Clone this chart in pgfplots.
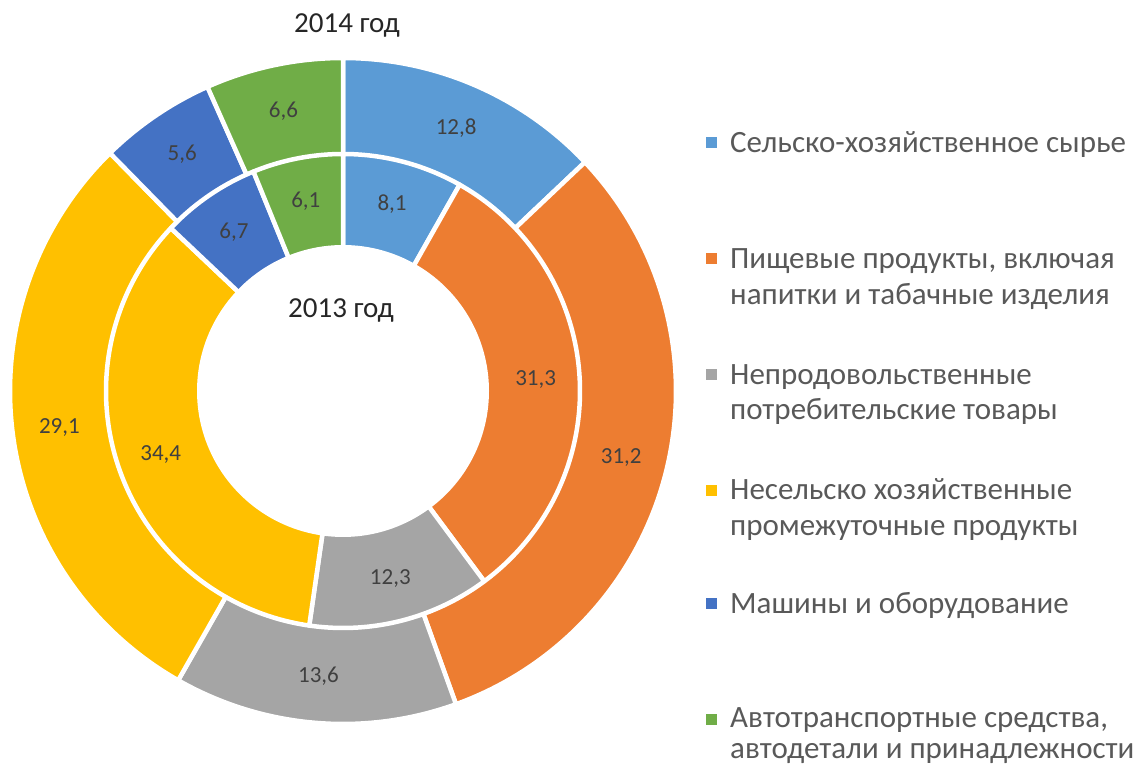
\documentclass[border=0pt]{standalone}
\usepackage{pgfplots}
\pgfplotsset{compat=1.18}
\usepackage{pgfplotstable}
\usepackage{fontspec}
\setmainfont{Carlito}

\definecolor{c0}{HTML}{5B9BD5}
\definecolor{c1}{HTML}{ED7D31}
\definecolor{c2}{HTML}{A5A5A5}
\definecolor{c3}{HTML}{FFC000}
\definecolor{c4}{HTML}{4472C4}
\definecolor{c5}{HTML}{70AD47}
\definecolor{lbl}{HTML}{404040}
\definecolor{leg}{HTML}{595959}
\definecolor{ttl}{HTML}{262626}

\pgfplotstableread{
cat v2014 v2013
0 12.8 8.1
1 31.2 31.3
2 13.6 12.3
3 29.1 34.4
4 5.6 6.7
5 6.6 6.1
}\donutdata

\newcommand\ringangles[2]{%
  \def\tot{0}%
  \pgfplotsforeachungrouped \i in {0,...,5}{%
    \pgfplotstablegetelem{\i}{#1}\of\donutdata
    \pgfmathsetmacro\tot{\tot+\pgfplotsretval}%
  }%
  \def\cum{0}%
  \pgfplotsforeachungrouped \i in {0,...,5}{%
    \pgfplotstablegetelem{\i}{#1}\of\donutdata
    \let\val\pgfplotsretval
    \pgfmathsetmacro\angA{90-360*(\cum/\tot)}%
    \pgfmathsetmacro\cum{\cum+\val}%
    \pgfmathsetmacro\angB{90-360*(\cum/\tot)}%
    \expandafter\xdef\csname #2a\i\endcsname{\angA}%
    \expandafter\xdef\csname #2b\i\endcsname{\angB}%
    \expandafter\xdef\csname #2v\i\endcsname{\val}%
  }%
}
\ringangles{v2014}{O}
\ringangles{v2013}{I}

\pgfkeys{/pgf/number format/.cd, use comma, fixed, fixed zerofill, precision=1, assume math mode=true}

\begin{document}
\begin{tikzpicture}
\begin{axis}[
  x=1pt, y=1pt,
  xmin=-343, xmax=798, ymin=-376, ymax=391,
  hide axis, clip=false,
]
\addplot[draw=none] coordinates {(-343,-376) (798,391)};
% outer ring (2014)
\pgfplotsinvokeforeach{0,...,5}{%
  \addplot[fill=c#1, draw=white, line width=4.5pt, line join=round, variable=\t,
    samples at={-1,0,1,...,120,121}]
   ({ifthenelse(\t<-0.5 || \t>120.5, 0, 333*cos(\csname Oa#1\endcsname+(\csname Ob#1\endcsname-\csname Oa#1\endcsname)*\t/120))},
    {ifthenelse(\t<-0.5 || \t>120.5, 0, 333*sin(\csname Oa#1\endcsname+(\csname Ob#1\endcsname-\csname Oa#1\endcsname)*\t/120))});
}
% inner ring (2013)
\pgfplotsinvokeforeach{0,...,5}{%
  \addplot[fill=c#1, draw=white, line width=4.5pt, line join=round, variable=\t,
    samples at={-1,0,1,...,120,121}]
   ({ifthenelse(\t<-0.5 || \t>120.5, 0, 237*cos(\csname Ia#1\endcsname+(\csname Ib#1\endcsname-\csname Ia#1\endcsname)*\t/120))},
    {ifthenelse(\t<-0.5 || \t>120.5, 0, 237*sin(\csname Ia#1\endcsname+(\csname Ib#1\endcsname-\csname Ia#1\endcsname)*\t/120))});
}
% hole
\addplot[fill=white, draw=none, domain=0:360, samples=181] ({146*cos(x)},{146*sin(x)});
% data labels
\pgfplotsinvokeforeach{0,...,5}{%
  \node[text=lbl, font=\fontsize{23}{27}\selectfont, inner sep=0pt] at
   (axis cs:{286*cos((\csname Oa#1\endcsname+\csname Ob#1\endcsname)/2)},{286*sin((\csname Oa#1\endcsname+\csname Ob#1\endcsname)/2)})
   {\pgfmathprintnumber{\csname Ov#1\endcsname}};
  \node[text=lbl, font=\fontsize{23}{27}\selectfont, inner sep=0pt] at
   (axis cs:{193*cos((\csname Ia#1\endcsname+\csname Ib#1\endcsname)/2)},{193*sin((\csname Ia#1\endcsname+\csname Ib#1\endcsname)/2)})
   {\pgfmathprintnumber{\csname Iv#1\endcsname}};
}
% titles
\node[anchor=base, text=ttl, font=\fontsize{29}{34}\selectfont, inner sep=0pt] at (axis cs:4,358) {2014 год};
\node[anchor=base, text=ttl, font=\fontsize{29}{34}\selectfont, inner sep=0pt] at (axis cs:-2,73) {2013 год};
% legend
\addplot[only marks, mark=square*, mark size=5pt, color=c0] coordinates {(368,249)};
\addplot[only marks, mark=square*, mark size=5pt, color=c1] coordinates {(368,133)};
\addplot[only marks, mark=square*, mark size=5pt, color=c2] coordinates {(368,17)};
\addplot[only marks, mark=square*, mark size=5pt, color=c3] coordinates {(368,-99)};
\addplot[only marks, mark=square*, mark size=5pt, color=c4] coordinates {(368,-212)};
\addplot[only marks, mark=square*, mark size=5pt, color=c5] coordinates {(368,-328)};
\begin{scope}[every node/.style={anchor=base west, inner sep=0pt, text=leg, font=\fontsize{31}{37}\selectfont}]
\node at (axis cs:387,238) {Сельско-хозяйственное сырье};
\node at (axis cs:387,122) {Пищевые продукты, включая};
\node at (axis cs:387,86) {напитки и табачные изделия};
\node at (axis cs:387,6) {Непродовольственные};
\node at (axis cs:387,-29) {потребительские товары};
\node at (axis cs:387,-109) {Несельско хозяйственные};
\node at (axis cs:387,-145) {промежуточные продукты};
\node at (axis cs:387,-223) {Машины и оборудование};
\node at (axis cs:387,-337) {Автотранспортные средства,};
\node at (axis cs:387,-368) {автодетали и принадлежности};
\end{scope}
\end{axis}
\end{tikzpicture}
\end{document}
